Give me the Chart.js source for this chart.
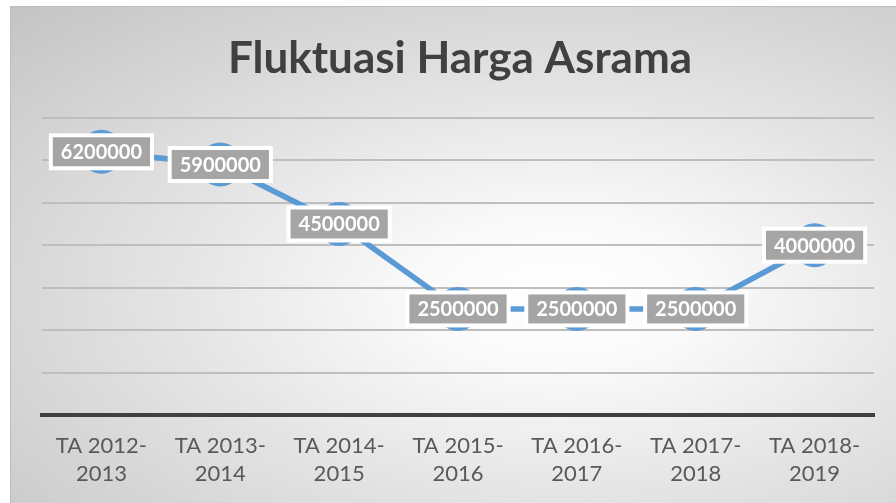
<!DOCTYPE html>
<html>
<head>
<meta charset="utf-8">
<script src="https://cdn.jsdelivr.net/npm/chart.js@4"></script>
<style>
  html, body { margin: 0; padding: 0; background: #ffffff; }
  #wrap { position: relative; width: 896px; height: 503px; overflow: hidden; }
  #bg {
    position: absolute; left: 10px; top: 6px; right: 0; bottom: 0;
    border-left: 1px solid #bdbdbd; border-top: 1px solid #bdbdbd;
    background: radial-gradient(ellipse farthest-corner at 62% 58%, #ffffff 0%, #fafafa 18%, #e4e4e4 50%, #c4c4c4 100%);
  }
  #chart { position: absolute; left: 0; top: 0; }
</style>
</head>
<body>
<div id="wrap">
  <div id="bg"></div>
  <canvas id="chart" width="896" height="503"></canvas>
</div>
<script>
// Fluktuasi harga asrama per tahun ajaran
const periods = [
    ['TA 2012-', '2013'],
    ['TA 2013-', '2014'],
    ['TA 2014-', '2015'],
    ['TA 2015-', '2016'],
    ['TA 2016-', '2017'],
    ['TA 2017-', '2018'],
    ['TA 2018-', '2019']
];
const hargaAsrama = [6200000, 5900000, 4500000, 2500000, 2500000, 2500000, 4000000];

// gray boxed data labels, Excel style
const boxLabels = {
    id: 'boxLabels',
    afterDatasetsDraw(chart) {
        const ctx = chart.ctx;
        const meta = chart.getDatasetMeta(0);
        ctx.save();
        ctx.font = 'bold 20px Lato';
        ctx.textAlign = 'center';
        ctx.textBaseline = 'middle';
        meta.data.forEach((pt, i) => {
            const text = String(chart.data.datasets[0].data[i]);
            const w = ctx.measureText(text).width + 16;
            const h = 29;
            ctx.fillStyle = '#ffffff';
            ctx.fillRect(pt.x - w / 2 - 4, pt.y - h / 2 - 4, w + 8, h + 8);
            ctx.fillStyle = '#a5a5a5';
            ctx.fillRect(pt.x - w / 2, pt.y - h / 2, w, h);
            ctx.fillStyle = '#ffffff';
            ctx.fillText(text, pt.x, pt.y + 1);
        });
        ctx.restore();
    }
};

const ctxHarga = document.getElementById('chart').getContext('2d');
const hargaChart = new Chart(ctxHarga, {
    type: 'line',
    data: {
        labels: periods,
        datasets: [{
            label: 'Harga Asrama',
            data: hargaAsrama,
            borderColor: '#5b9bd5',
            backgroundColor: '#5b9bd5',
            borderWidth: 5.5,
            pointRadius: 22,
            pointBorderWidth: 0,
            pointBackgroundColor: '#5b9bd5',
            tension: 0
        }]
    },
    options: {
        responsive: false,
        animation: false,
        layout: {
            padding: { left: 42, right: 18, top: 0, bottom: -2 }
        },
        scales: {
            x: {
                offset: true,
                grid: { display: false, drawTicks: false },
                border: { display: true, color: '#404040', width: 4 },
                ticks: {
                    color: '#595959',
                    padding: 17,
                    font: { family: 'Lato', size: 22, lineHeight: 1.27 },
                    maxRotation: 0,
                    autoSkip: false
                }
            },
            y: {
                min: 0,
                max: 7000000,
                ticks: { display: false, stepSize: 1000000 },
                border: { display: false },
                grid: { color: '#bebebe', lineWidth: 2, drawTicks: false }
            }
        },
        plugins: {
            legend: { display: false },
            tooltip: { enabled: false },
            title: {
                display: true,
                text: 'Fluktuasi Harga Asrama',
                color: '#404040',
                font: { family: 'Lato', size: 44, weight: 'bold', lineHeight: 1.2 },
                padding: { top: 32, bottom: 33 }
            }
        }
    },
    plugins: [boxLabels]
});
</script>
</body>
</html>
